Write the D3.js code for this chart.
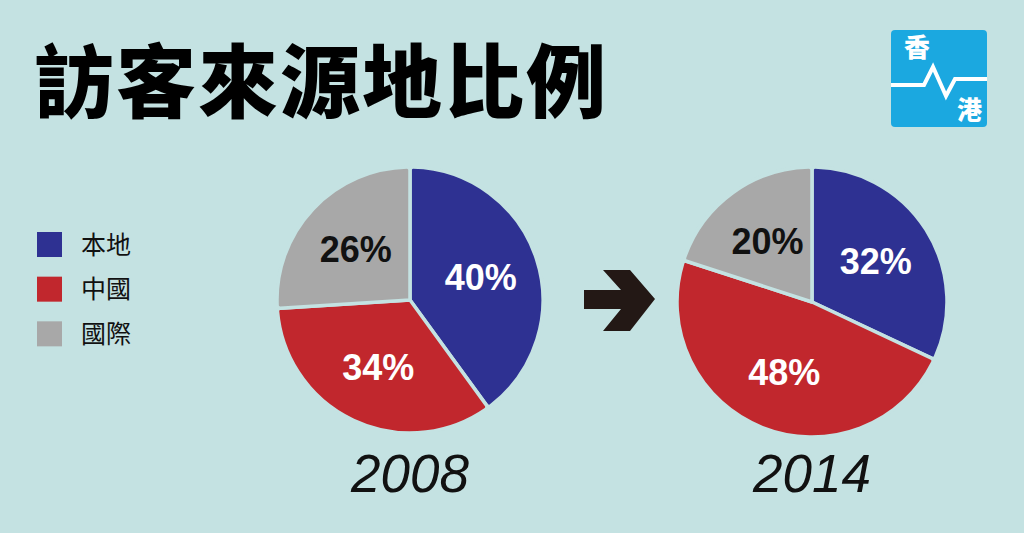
<!DOCTYPE html>
<html><head><meta charset="utf-8">
<script src="https://cdn.jsdelivr.net/npm/d3@7"></script>
<style>
html,body{margin:0;padding:0;background:#c4e2e2;}
svg{display:block;}
</style></head>
<body>
<svg id="chart" width="1024" height="533"></svg>
<script>
const title = "訪客來源地比例";
const categories = ["本地", "中國", "國際"];
const colors = ["#2e3192", "#c1272d", "#a8a8a8"];
const labelColors = ["#ffffff", "#ffffff", "#111111"];
const years = ["2008", "2014"];
const values2008 = [40, 34, 26];
const values2014 = [32, 48, 20];
const seriesList = [values2008, values2014];

const bg = "#c4e2e2";
const svg = d3.select("#chart");
svg.append("rect").attr("width", 1024).attr("height", 533).attr("fill", bg);

// Title
svg.append("text").attr("x", 34).attr("y", 111)
  .attr("font-family", "'Noto Sans CJK TC'").attr("font-weight", 900)
  .attr("font-size", 80).attr("fill", "#000").attr("letter-spacing", 2)
  .text(title);

// Logo
const logo = svg.append("g").attr("transform", "translate(891,30)");
logo.append("rect").attr("width", 96).attr("height", 97).attr("rx", 4).attr("fill", "#1ba8e0");
logo.append("path").attr("d", "M0,55 L33,55 L42,37 L55,66 L64,49 L96,49")
  .attr("fill", "none").attr("stroke", "#fff").attr("stroke-width", 4).attr("stroke-linejoin", "miter");
logo.append("text").attr("x", 13).attr("y", 27).attr("font-family", "'Noto Sans CJK TC'")
  .attr("font-weight", 900).attr("font-size", 26).attr("fill", "#fff").text("香");
logo.append("text").attr("x", 66).attr("y", 89).attr("font-family", "'Noto Sans CJK TC'")
  .attr("font-weight", 900).attr("font-size", 25).attr("fill", "#fff").text("港");

// Legend
const legend = svg.append("g");
const ly = d3.scaleBand().domain(categories).range([232, 366]).paddingInner(0);
categories.forEach((c, i) => {
  const y = ly(c);
  legend.append("rect").attr("x", 37).attr("y", y).attr("width", 25).attr("height", 25).attr("fill", colors[i]);
  legend.append("text").attr("x", 81).attr("y", y + 12.5).attr("dy", "0.36em")
    .attr("font-family", "'Noto Sans CJK TC'").attr("font-size", 25).attr("fill", "#111").text(c);
});

// Pies
const centers = [[410, 300], [812, 302]];
const radii = [133, 135];
const pie = d3.pie().sort(null).value(d => d);
seriesList.forEach((vals, k) => {
  const R = radii[k];
  const g = svg.append("g").attr("transform", `translate(${centers[k][0]},${centers[k][1]})`);
  const arc = d3.arc().innerRadius(0).outerRadius(R).cornerRadius(3);
  const labelArc = d3.arc().innerRadius(R * 0.56).outerRadius(R * 0.56);
  const arcs = pie(vals);
  g.selectAll("path").data(arcs).join("path")
    .attr("d", arc).attr("fill", (d, i) => colors[i])
    .attr("stroke", bg).attr("stroke-width", 3.5).attr("stroke-linejoin", "round");
  g.selectAll("text").data(arcs).join("text")
    .attr("transform", d => `translate(${labelArc.centroid(d)})`)
    .attr("text-anchor", "middle").attr("dy", "0.36em")
    .attr("font-family", "'Liberation Sans', Arial, sans-serif").attr("font-weight", "bold")
    .attr("font-size", 36).attr("fill", (d, i) => labelColors[i])
    .text(d => d.data + "%");
  svg.append("text").attr("x", centers[k][0]).attr("y", 492).attr("text-anchor", "middle")
    .attr("font-family", "'Liberation Sans', Arial, sans-serif").attr("font-style", "italic")
    .attr("font-size", 53).attr("fill", "#111").text(years[k]);
});

// Arrow
svg.append("path")
  .attr("d", "M584,290 L621,290 L603,270 L630,270 L655,299 L630,331 L603,331 L621,309 L584,309 Z")
  .attr("fill", "#231815");
</script>
</body></html>
